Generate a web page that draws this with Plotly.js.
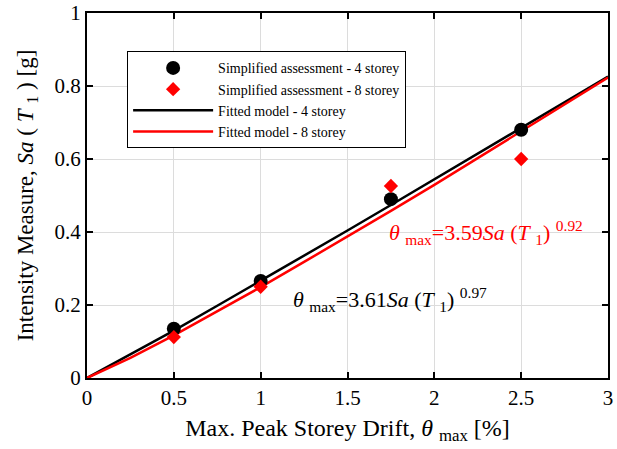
<!DOCTYPE html>
<html><head><meta charset="utf-8">
<script src="https://cdn.plot.ly/plotly-3.0.1.min.js"></script>
<style>html,body{margin:0;padding:0;background:#fff}#chart{width:617px;height:449px}</style>
</head><body><div id="chart"></div>
<script>
const ptsX = [0.5, 1.0, 1.75, 2.5];
const sa4 = [0.135, 0.266, 0.49, 0.68];
const sa8 = [0.112, 0.25, 0.526, 0.60];
const fitX = [0, 0.25, 0.5, 0.75, 1.0, 1.25, 1.5, 1.75, 2.0, 2.25, 2.5, 2.75, 3.0];
const fit4 = [0, 0.064, 0.130, 0.198, 0.266, 0.335, 0.404, 0.474, 0.544, 0.614, 0.685, 0.755, 0.826];
const fit8 = [0, 0.055, 0.117, 0.182, 0.249, 0.318, 0.387, 0.458, 0.529, 0.602, 0.675, 0.748, 0.823];
const names = ['Simplified assessment - 4 storey','Simplified assessment - 8 storey','Fitted model - 4 storey','Fitted model - 8 storey'];
const eq8 = '<i>θ</i> <sub>max</sub>=3.59<i>Sa</i> (<i>T</i> <sub>1</sub>) <sup>0.92</sup>';
const eq4 = '<i>θ</i> <sub>max</sub>=3.61<i>Sa</i> (<i>T</i> <sub>1</sub>) <sup>0.97</sup>';

const font = 'Liberation Serif';
const traces = [
  {x: fitX, y: fit4, mode: 'lines', line: {color: '#000', width: 2.5}, name: names[2], legendrank: 3},
  {x: fitX, y: fit8, mode: 'lines', line: {color: '#ff0000', width: 2.5}, name: names[3], legendrank: 4},
  {x: ptsX, y: sa4, mode: 'markers', marker: {symbol: 'circle', size: 14, color: '#000'}, name: names[0], legendrank: 1},
  {x: ptsX, y: sa8, mode: 'markers', marker: {symbol: 'diamond', size: 11, color: '#ff0000'}, name: names[1], legendrank: 2}
];
const axisCommon = {
  showline: true, linecolor: '#000', linewidth: 2, mirror: 'ticks',
  ticks: 'inside', ticklen: 6, tickwidth: 2, tickcolor: '#000',
  showgrid: true, gridcolor: '#dcdcdc', gridwidth: 1, zeroline: false,
  tickfont: {family: font, size: 21, color: '#000'}
};
const layout = {
  width: 617, height: 449,
  margin: {l: 87, r: 9, t: 13, b: 71},
  paper_bgcolor: '#fff', plot_bgcolor: '#fff',
  font: {family: font, color: '#000'},
  showlegend: true,
  legend: {x: 0.077, y: 0.895, xanchor: 'left', yanchor: 'top', bordercolor: '#000', borderwidth: 1,
           bgcolor: '#fff', font: {family: font, size: 14, color: '#000'}, tracegroupgap: 0, itemwidth: 80},
  xaxis: Object.assign({}, axisCommon, {range: [0, 3], tickvals: [0, 0.5, 1, 1.5, 2, 2.5, 3], ticktext: ['0','0.5','1','1.5','2','2.5','3'],
          title: {text: 'Max. Peak Storey Drift, <i>θ</i> <sub>max</sub> [%]', font: {family: font, size: 24, color: '#000'}, standoff: 10}}),
  yaxis: Object.assign({}, axisCommon, {range: [0, 1], tickvals: [0, 0.2, 0.4, 0.6, 0.8, 1], ticktext: ['0','0.2','0.4','0.6','0.8','1'],
          title: {text: 'Intensity Measure, <i>Sa</i> ( <i>T</i> <sub>1</sub> ) [g]', font: {family: font, size: 23, color: '#000'}, standoff: 14}}),
  annotations: [
    {x: 2.30, y: 0.40, xref: 'x', yref: 'y', text: eq8, showarrow: false, font: {family: font, size: 22, color: '#ff0000'}},
    {x: 1.745, y: 0.214, xref: 'x', yref: 'y', text: eq4, showarrow: false, font: {family: font, size: 22, color: '#000'}}
  ]
};
Plotly.newPlot('chart', traces, layout, {displayModeBar: false, staticPlot: true});
</script></body></html>
